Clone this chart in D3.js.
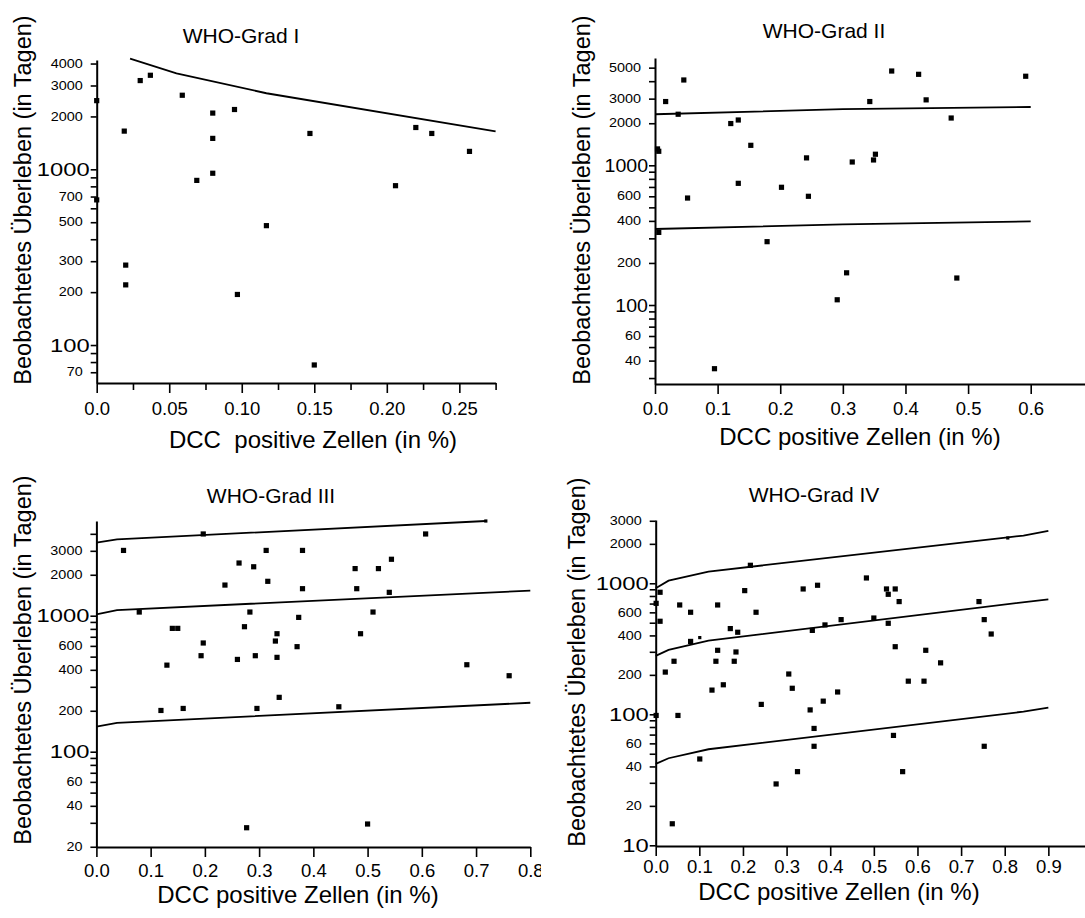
<!DOCTYPE html>
<html>
<head>
<meta charset="utf-8">
<script src="https://cdn.jsdelivr.net/npm/d3@7"></script>
<style>
body { margin: 0; background: #fff; }
text { font-family: "Liberation Sans", Arial, sans-serif; fill: #000; }
</style>
</head>
<body>
<div id="chart"></div>
<script>
// WHO-Grad I
var g1X = [0, 0, 0.019, 0.020, 0.020, 0.030, 0.037, 0.059, 0.069, 0.080, 0.080, 0.080, 0.095, 0.097, 0.117, 0.147, 0.150, 0.206, 0.220, 0.231, 0.257];
var g1Y = [2460, 670, 1650, 285, 220, 3200, 3430, 2640, 865, 2090, 1500, 950, 2190, 194, 478, 1600, 77, 807, 1730, 1600, 1265];
var g1LineX = [0.023, 0.055, 0.117, 0.275];
var g1LineY = [4270, 3520, 2710, 1645];

// WHO-Grad II
var g2X = [0.004, 0.006, 0.006, 0.017, 0.037, 0.046, 0.052, 0.095, 0.121, 0.133, 0.133, 0.153, 0.179, 0.202, 0.242, 0.245, 0.291, 0.306, 0.315, 0.343, 0.349, 0.352, 0.378, 0.421, 0.433, 0.473, 0.482, 0.592];
var g2Y = [1310, 1260, 331, 2860, 2320, 4080, 583, 35, 1990, 2110, 743, 1390, 284, 696, 1130, 600, 109, 170, 1056, 2860, 1092, 1200, 4730, 4480, 2940, 2180, 156, 4340];
var g2LineX = [0, 0.3, 0.6];
var g2UpperY = [2320, 2520, 2615];
var g2LowerY = [350, 378, 397];

// WHO-Grad III
var g3X = [0.050, 0.079, 0.119, 0.130, 0.140, 0.150, 0.160, 0.193, 0.197, 0.197, 0.237, 0.260, 0.263, 0.273, 0.277, 0.283, 0.290, 0.293, 0.296, 0.313, 0.316, 0.330, 0.333, 0.333, 0.337, 0.370, 0.373, 0.380, 0.380, 0.447, 0.477, 0.480, 0.487, 0.500, 0.510, 0.520, 0.540, 0.544, 0.607, 0.683, 0.761];
var g3Y = [3020, 1064, 201, 433, 807, 807, 208, 508, 3990, 630, 1680, 477, 2440, 830, 27.6, 1064, 2290, 508, 208, 3020, 1790, 651, 737, 494, 251, 592, 972, 3020, 1580, 214, 2220, 1580, 737, 29.4, 1064, 2220, 1485, 2600, 3990, 436, 362];
var g3UpperX = [0, 0.038, 0.718];
var g3UpperY = [3440, 3640, 4970];
var g3LineX = [0, 0.038, 0.8];
var g3MiddleY = [1023, 1100, 1530];
var g3LowerY = [153, 163, 229];

// WHO-Grad IV
var g4X = [0.001, 0.001, 0.010, 0.010, 0.022, 0.038, 0.042, 0.051, 0.055, 0.080, 0.080, 0.101, 0.129, 0.138, 0.142, 0.142, 0.155, 0.171, 0.180, 0.184, 0.188, 0.204, 0.217, 0.230, 0.242, 0.276, 0.305, 0.313, 0.325, 0.338, 0.354, 0.359, 0.363, 0.363, 0.371, 0.384, 0.388, 0.417, 0.425, 0.483, 0.500, 0.529, 0.533, 0.533, 0.545, 0.549, 0.549, 0.558, 0.566, 0.579, 0.615, 0.619, 0.653, 0.741, 0.753, 0.753, 0.769];
var g4Y = [703, 98, 854, 513, 210, 14.6, 254, 98, 683, 601, 360, 45.6, 153, 254, 683, 308, 168, 451, 254, 299, 423, 879, 1372, 601, 119, 29.4, 203, 158, 36.5, 905, 108, 437, 78, 57, 966, 126, 481, 148, 528, 1098, 543, 905, 824, 495, 69, 905, 328, 725, 36.5, 179, 179, 308, 247, 725, 528, 57, 410];
var g4SmallX = [0.101, 0.807];
var g4SmallY = [385, 2218];
var g4UpperX = [0, 0.0295, 0.121, 0.807, 0.843, 0.9];
var g4UpperY = [916, 1048, 1228, 2243, 2311, 2509];
var g4MiddleX = [0, 0.0295, 0.121, 0.9];
var g4MiddleY = [279, 310, 365, 755];
var g4LowerX = [0, 0.0295, 0.121, 0.843, 0.9];
var g4LowerY = [41.8, 46.2, 54.1, 104.8, 112.5];

// tick values and labels
var yTicks1 = [4000, 3000, 2000, 1000, 900, 800, 700, 600, 500, 400, 300, 200, 100, 90, 80, 70];
var ySmall1 = [4000, 3000, 2000, 700, 500, 300, 200, 70];
var yTicks2 = [5000, 4000, 3000, 2000, 1000, 900, 800, 700, 600, 500, 400, 300, 200, 100, 90, 80, 70, 60, 50, 40, 30];
var ySmall2 = [5000, 3000, 2000, 600, 400, 200, 60, 40];
var yTicks3 = [4000, 3000, 2000, 1000, 900, 800, 700, 600, 500, 400, 300, 200, 100, 90, 80, 70, 60, 50, 40, 30, 20];
var ySmall3 = [3000, 2000, 600, 400, 200, 60, 40, 20];
var yTicks4 = [3000, 2000, 1000, 900, 800, 700, 600, 500, 400, 300, 200, 100, 90, 80, 70, 60, 50, 40, 30, 20, 10];
var ySmall4 = [3000, 2000, 600, 400, 200, 60, 40, 20];
var yBig = [1000, 100];
var yBig4 = [1000, 100, 10];

var xTicks1 = [0, 0.05, 0.10, 0.15, 0.20, 0.25];
var xLabels1 = ["0.0", "0.05", "0.10", "0.15", "0.20", "0.25"];
var xMinor1 = [0.025, 0.075, 0.125, 0.175, 0.225, 0.275];
var xTicks2 = [0, 0.1, 0.2, 0.3, 0.4, 0.5, 0.6];
var xLabels2 = ["0.0", "0.1", "0.2", "0.3", "0.4", "0.5", "0.6"];
var xTicks3 = [0, 0.1, 0.2, 0.3, 0.4, 0.5, 0.6, 0.7, 0.8];
var xLabels3 = ["0.0", "0.1", "0.2", "0.3", "0.4", "0.5", "0.6", "0.7", "0.8"];
var xTicks4 = [0, 0.1, 0.2, 0.3, 0.4, 0.5, 0.6, 0.7, 0.8, 0.9];
var xLabels4 = ["0.0", "0.1", "0.2", "0.3", "0.4", "0.5", "0.6", "0.7", "0.8", "0.9"];

var yTitle = "Beobachtetes \u00dcberleben (in Tagen)";

var svg = d3.select("#chart")
  .append("svg")
  .attr("width", 1085)
  .attr("height", 918)
  .style("background", "#fff");

svg.append("defs").append("clipPath").attr("id", "clip3")
  .append("rect").attr("x", 0).attr("y", 455).attr("width", 541).attr("height", 463);

function drawPanel(p) {
  var g = svg.append("g");
  if (p.clip) g.attr("clip-path", "url(#" + p.clip + ")");

  var x = d3.scaleLinear().domain(p.xDomain).range([p.left, p.right]);
  var y = d3.scaleLog().domain(p.yDomain).range([p.bottom, p.top]);

  // x axis
  var xa = g.append("g")
    .attr("transform", "translate(0," + p.bottom + ")")
    .call(d3.axisBottom(x)
      .tickValues(p.xTicks)
      .tickFormat(function(d, i) { return p.xLabels[i]; })
      .tickSize(10).tickSizeOuter(0).tickPadding(p.xPad));
  xa.select(".domain").attr("stroke-width", 2);
  xa.selectAll("line").attr("stroke-width", 1.6);
  xa.selectAll("text").style("font-size", "18.5px").attr("fill", "#000");

  if (p.xMinor) {
    var xm = g.append("g")
      .attr("transform", "translate(0," + p.bottom + ")")
      .call(d3.axisBottom(x).tickValues(p.xMinor).tickFormat("").tickSize(7).tickSizeOuter(0));
    xm.select(".domain").remove();
    xm.selectAll("line").attr("stroke-width", 1.6);
  }

  // y axis
  var ya = g.append("g")
    .attr("transform", "translate(" + p.left + ",0)")
    .call(d3.axisLeft(y).tickValues(p.yTicks).tickFormat("").tickSize(6).tickSizeOuter(0));
  ya.select(".domain").attr("stroke-width", 2);
  ya.selectAll("line").attr("stroke-width", 1.6);

  g.selectAll(".ysmall")
    .data(p.ySmall)
    .enter()
    .append("text")
    .attr("transform", function(d) { return "translate(" + (p.left - 14) + "," + y(d) + ") scale(1.2,1)"; })
    .attr("text-anchor", "end")
    .attr("dy", "0.35em")
    .style("font-size", "12px")
    .text(function(d) { return d; });

  g.selectAll(".ybig")
    .data(p.yBig)
    .enter()
    .append("text")
    .attr("transform", function(d) { return "translate(" + (p.left - 7) + "," + y(d) + ") scale(" + p.bigScale + ",1)"; })
    .attr("text-anchor", "end")
    .attr("dy", "0.35em")
    .style("font-size", "19px")
    .text(function(d) { return d; });

  // regression lines
  var line = d3.line()
    .x(function(d) { return x(d[0]); })
    .y(function(d) { return y(d[1]); });
  p.lines.forEach(function(l) {
    g.append("path")
      .datum(d3.zip(l[0], l[1]))
      .attr("fill", "none")
      .attr("stroke", "#000")
      .attr("stroke-width", 1.8)
      .attr("d", line);
  });

  // points
  g.selectAll(".pt")
    .data(d3.zip(p.px, p.py))
    .enter()
    .append("rect")
    .attr("x", function(d) { return x(d[0]) - 2.6; })
    .attr("y", function(d) { return y(d[1]) - 2.6; })
    .attr("width", 5.2)
    .attr("height", 5.2)
    .attr("fill", "#000");

  if (p.smallX) {
    g.selectAll(".sp")
      .data(d3.zip(p.smallX, p.smallY))
      .enter()
      .append("rect")
      .attr("x", function(d) { return x(d[0]) - 1.6; })
      .attr("y", function(d) { return y(d[1]) - 1.6; })
      .attr("width", 3.2)
      .attr("height", 3.2)
      .attr("fill", "#000");
  }

  // titles
  g.append("text")
    .attr("x", p.titleX).attr("y", p.titleY)
    .attr("text-anchor", "middle")
    .style("font-size", "21px")
    .text(p.title);

  g.append("text")
    .attr("x", p.xTitleX).attr("y", p.xTitleY)
    .attr("text-anchor", "middle")
    .style("font-size", "24px")
    .text(p.xTitle);

  g.append("text")
    .attr("transform", "translate(" + p.yTitleX + "," + p.yTitleY + ") rotate(-90)")
    .attr("text-anchor", "middle")
    .style("font-size", "23.5px")
    .text(yTitle);
}

drawPanel({
  left: 96.7, right: 495.6, top: 60, bottom: 383,
  xDomain: [0, 0.275], yDomain: [60.8, 4190],
  xTicks: xTicks1, xLabels: xLabels1, xMinor: xMinor1, xPad: 9,
  yTicks: yTicks1, ySmall: ySmall1, yBig: yBig, bigScale: 1.25,
  lines: [[g1LineX, g1LineY]],
  px: g1X, py: g1Y,
  title: "WHO-Grad I", titleX: 241, titleY: 43,
  xTitle: "DCC\u00a0 positive Zellen (in %)", xTitleX: 313, xTitleY: 448,
  yTitleX: 31, yTitleY: 200
});

drawPanel({
  left: 655, right: 1085, top: 58, bottom: 384,
  xDomain: [0, 0.6867], yDomain: [27.2, 5862],
  xTicks: xTicks2, xLabels: xLabels2, xPad: 8,
  yTicks: yTicks2, ySmall: ySmall2, yBig: yBig, bigScale: 1.03,
  lines: [[g2LineX, g2UpperY], [g2LineX, g2LowerY]],
  px: g2X, py: g2Y,
  title: "WHO-Grad II", titleX: 824, titleY: 38,
  xTitle: "DCC positive Zellen (in %)", xTitleX: 860, xTitleY: 445,
  yTitleX: 590, yTitleY: 200
});

drawPanel({
  left: 96.4, right: 530.3, top: 521, bottom: 847,
  xDomain: [0, 0.8], yDomain: [19.92, 4970],
  xTicks: xTicks3, xLabels: xLabels3, xPad: 6.9,
  yTicks: yTicks3, ySmall: ySmall3, yBig: yBig, bigScale: 1.25,
  lines: [[g3UpperX, g3UpperY], [g3LineX, g3MiddleY], [g3LineX, g3LowerY]],
  px: g3X, py: g3Y,
  smallX: [g3UpperX[2]], smallY: [g3UpperY[2]],
  title: "WHO-Grad III", titleX: 271, titleY: 503,
  xTitle: "DCC positive Zellen (in %)", xTitleX: 298, xTitleY: 903,
  yTitleX: 31, yTitleY: 660,
  clip: "clip3"
});

drawPanel({
  left: 655.7, right: 1085, top: 520, bottom: 846,
  xDomain: [0, 0.984], yDomain: [9.88, 3041],
  xTicks: xTicks4, xLabels: xLabels4, xPad: 3.9,
  yTicks: yTicks4, ySmall: ySmall4, yBig: yBig4, bigScale: 1.25,
  lines: [[g4UpperX, g4UpperY], [g4MiddleX, g4MiddleY], [g4LowerX, g4LowerY]],
  px: g4X, py: g4Y,
  smallX: g4SmallX, smallY: g4SmallY,
  title: "WHO-Grad IV", titleX: 814, titleY: 502,
  xTitle: "DCC positive Zellen (in %)", xTitleX: 839, xTitleY: 899.5,
  yTitleX: 585, yTitleY: 662
});
</script>
</body>
</html>
